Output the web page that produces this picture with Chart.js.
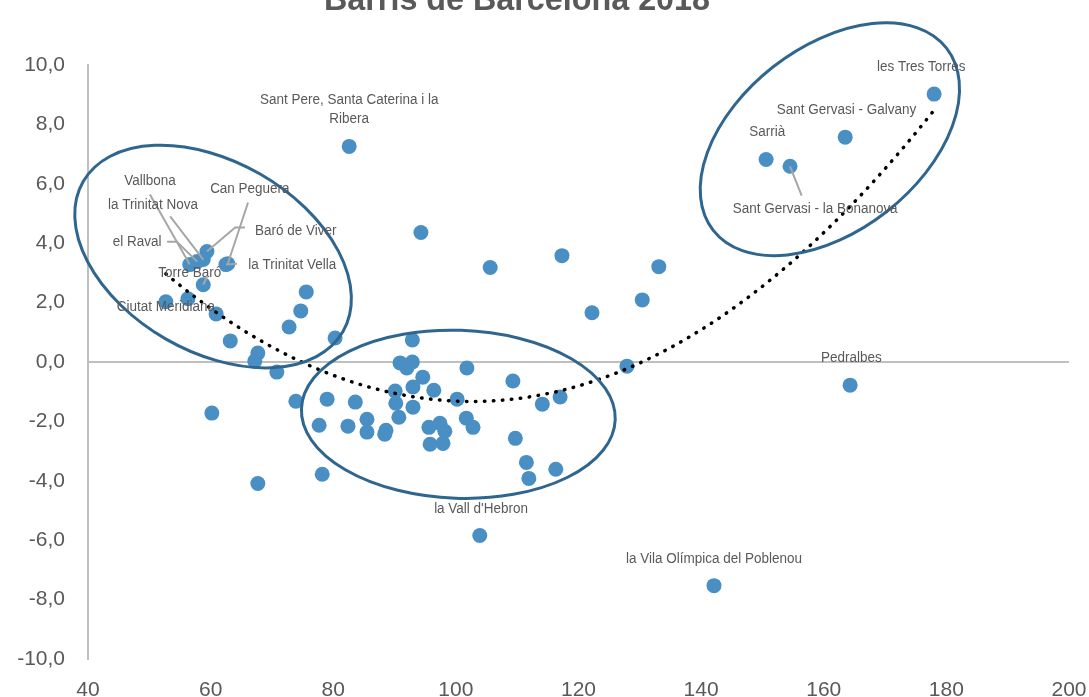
<!DOCTYPE html>
<html>
<head>
<meta charset="utf-8">
<script src="https://cdn.jsdelivr.net/npm/chart.js@4.4.1/dist/chart.umd.min.js"></script>
<style>
  html, body { margin: 0; padding: 0; background: #fff; }
  #wrap { width: 1089px; height: 697px; }
</style>
</head>
<body>
<div id="wrap"><canvas id="chart" width="1089" height="697"></canvas></div>
<script>
// Barris de Barcelona 2018 - one point per barri
const xValues = [
  52.7, 56.3, 56.6, 57.8, 58.8, 59.4, 62.8, 62.5, 58.8, 60.9,
  63.2, 67.7, 67.2, 70.8, 75.6, 74.7, 72.8, 80.3, 82.6, 60.2,
  67.7, 73.9, 78.2, 94.3, 105.6, 117.3, 133.1, 130.4, 122.2, 127.9,
  164.3, 142.1, 103.9, 150.6, 154.5, 163.5, 178.0,
  92.9, 90.9, 92.9, 92.0, 101.8, 94.6, 109.3, 93.0, 96.4, 90.1,
  100.2, 79.0, 83.6, 90.2, 93.0, 114.1, 117.0, 90.7, 101.7, 102.8,
  85.5, 85.5, 82.4, 77.7, 88.6, 88.4, 95.6, 97.4, 98.2, 95.8,
  97.9, 109.7, 111.5, 111.9, 116.3
];
const yValues = [
  2.03, 2.13, 3.28, 3.38, 3.45, 3.72, 3.31, 3.28, 2.60, 1.62,
  0.71, 0.30, 0.03, -0.34, 2.36, 1.72, 1.18, 0.81, 7.26, -1.72,
  -4.09, -1.32, -3.78, 4.36, 3.18, 3.58, 3.21, 2.09, 1.66, -0.14,
  -0.78, -7.53, -5.84, 6.82, 6.59, 7.57, 9.02,
  0.74, -0.03, 0.00, -0.20, -0.20, -0.51, -0.64, -0.84, -0.95, -0.98,
  -1.25, -1.25, -1.35, -1.39, -1.52, -1.42, -1.18, -1.86, -1.89, -2.20,
  -1.93, -2.36, -2.16, -2.13, -2.30, -2.43, -2.20, -2.06, -2.33, -2.77,
  -2.74, -2.57, -3.38, -3.92, -3.61
];

const xTickValues = [40, 60, 80, 100, 120, 140, 160, 180, 200];
const yTickValues = [-10, -8, -6, -4, -2, 0, 2, 4, 6, 8, 10];

// named barris and the point they belong to
const labelNames = [
  'les Tres Torres', 'Sant Gervasi - Galvany', 'Sarrià', 'Sant Gervasi - la Bonanova',
  'Pedralbes', 'la Vila Olímpica del Poblenou', "la Vall d'Hebron",
  'Sant Pere, Santa Caterina i la\nRibera',
  'Vallbona', 'la Trinitat Nova', 'el Raval', 'Can Peguera', 'Baró de Viver',
  'la Trinitat Vella', 'Torre Baró', 'Ciutat Meridiana'
];
const labelPoint = [36, 35, 33, 34, 30, 31, 32, 18, 2, 4, 3, 6, 5, 7, 8, 0];

const trendOrder = 2;

// where the data labels sit (data units) and their leader lines
const labelLayout = [
  { x: 175.9, y: 9.93 },
  { x: 163.7, y: 8.51 },
  { x: 150.8, y: 7.74 },
  { x: 158.6, y: 5.17, leader: [[156.4, 5.6]] },
  { x: 164.5, y: 0.14 },
  { x: 142.1, y: -6.62 },
  { x: 104.1, y: -4.93 },
  { x: 82.6, y: 8.51 },
  { x: 50.1, y: 6.11, leader: [[50.1, 5.64]] },
  { x: 50.6, y: 5.30, leader: [[53.4, 4.90]] },
  { x: 48.0, y: 4.05, leader: [[52.9, 4.05], [54.5, 4.05]] },
  { x: 66.4, y: 5.84, leader: [[66.1, 5.37]] },
  { x: 73.9, y: 4.43, leader: [[65.6, 4.53], [64.0, 4.53]] },
  { x: 73.3, y: 3.28, leader: [[64.3, 3.31]] },
  { x: 56.6, y: 3.00, leader: [[59.4, 2.87]] },
  { x: 52.7, y: 1.86 }
];

// the three circled groups: centre in data units, radii in px
const groups = [
  { x: 60.4, y: 3.55, rx: 150, ry: 95, rot: 30 },
  { x: 161.0, y: 7.5, rx: 148, ry: 92, rot: -38 },
  { x: 100.4, y: -1.76, rx: 157, ry: 84, rot: 2 }
];

function polyFit(xs, ys, order) {
  const n = order + 1;
  const A = Array.from({ length: n }, () => new Array(n + 1).fill(0));
  for (let k = 0; k < xs.length; k++) {
    const u = (xs[k] - 100) / 50;
    for (let i = 0; i < n; i++) {
      for (let j = 0; j < n; j++) A[i][j] += Math.pow(u, i + j);
      A[i][n] += ys[k] * Math.pow(u, i);
    }
  }
  for (let i = 0; i < n; i++) {
    let m = i;
    for (let r = i + 1; r < n; r++) if (Math.abs(A[r][i]) > Math.abs(A[m][i])) m = r;
    [A[i], A[m]] = [A[m], A[i]];
    for (let r = i + 1; r < n; r++) {
      const f = A[r][i] / A[i][i];
      for (let c = i; c <= n; c++) A[r][c] -= f * A[i][c];
    }
  }
  const coef = new Array(n).fill(0);
  for (let i = n - 1; i >= 0; i--) {
    let s = A[i][n];
    for (let j = i + 1; j < n; j++) s -= A[i][j] * coef[j];
    coef[i] = s / A[i][i];
  }
  return x => {
    const u = (x - 100) / 50;
    return coef.reduce((acc, c, i) => acc + c * Math.pow(u, i), 0);
  };
}

const trend = polyFit(xValues, yValues, trendOrder);
const xMin = Math.min(...xValues), xMax = Math.max(...xValues);
const trendPoints = [];
for (let i = 0; i <= 150; i++) {
  const x = xMin + (xMax - xMin) * i / 150;
  trendPoints.push({ x: x, y: trend(x) });
}

// labels look condensed in the original, squeeze them a bit
const LABEL_FONT = "15.5px 'Liberation Sans', sans-serif";
const LABEL_SQUEEZE = 0.87;

const decorPlugin = {
  id: 'decor',
  afterDatasetsDraw(chart) {
    const ctx = chart.ctx;
    const xs = chart.scales.x, ys = chart.scales.y;
    ctx.save();
    // ellipses
    ctx.strokeStyle = '#2f668f';
    ctx.lineWidth = 3;
    groups.forEach(g => {
      ctx.beginPath();
      ctx.ellipse(xs.getPixelForValue(g.x), ys.getPixelForValue(g.y), g.rx, g.ry, g.rot * Math.PI / 180, 0, Math.PI * 2);
      ctx.stroke();
    });
    // leader lines
    ctx.strokeStyle = '#a6a6a6';
    ctx.lineWidth = 2;
    labelLayout.forEach((l, i) => {
      if (!l.leader) return;
      const p = labelPoint[i];
      ctx.beginPath();
      l.leader.forEach((pt, k) => {
        const px = xs.getPixelForValue(pt[0]), py = ys.getPixelForValue(pt[1]);
        if (k === 0) ctx.moveTo(px, py); else ctx.lineTo(px, py);
      });
      ctx.lineTo(xs.getPixelForValue(xValues[p]), ys.getPixelForValue(yValues[p]));
      ctx.stroke();
    });
    // labels
    ctx.fillStyle = '#595959';
    ctx.font = LABEL_FONT;
    ctx.textAlign = 'center';
    ctx.textBaseline = 'middle';
    labelLayout.forEach((l, i) => {
      const lines = labelNames[i].split('\n');
      const cx = xs.getPixelForValue(l.x), cy = ys.getPixelForValue(l.y);
      const lh = 19;
      lines.forEach((t, k) => {
        ctx.save();
        ctx.translate(cx, cy + (k - (lines.length - 1) / 2) * lh);
        ctx.scale(LABEL_SQUEEZE, 1);
        ctx.fillText(t, 0, 0);
        ctx.restore();
      });
    });
    ctx.restore();
  },
  afterDraw(chart) {
    const ctx = chart.ctx;
    ctx.save();
    ctx.fillStyle = '#595959';
    ctx.textAlign = 'center';
    ctx.textBaseline = 'alphabetic';
    ctx.font = "bold 30px 'Liberation Sans', sans-serif";
    const w = ctx.measureText('Barris de Barcelona 2018').width;
    const size = 30 * 386 / w;
    ctx.font = "bold " + size.toFixed(1) + "px 'Liberation Sans', sans-serif";
    ctx.fillText('Barris de Barcelona 2018', 517, 10);
    ctx.restore();
  }
};

const ctx = document.getElementById('chart').getContext('2d');
new Chart(ctx, {
  type: 'scatter',
  data: {
    datasets: [
      {
        type: 'line',
        label: 'Tendència',
        data: trendPoints,
        borderColor: '#000000',
        borderWidth: 3.5,
        borderDash: [0.5, 8.5],
        borderCapStyle: 'round',
        pointRadius: 0,
        fill: false,
        tension: 0
      },
      {
        label: 'Barris',
        data: xValues.map((x, i) => ({ x: x, y: yValues[i] })),
        backgroundColor: '#4a8fc4',
        borderColor: '#4a8fc4',
        borderWidth: 0,
        pointRadius: 7.5,
        pointHoverRadius: 7.5
      }
    ]
  },
  options: {
    responsive: false,
    animation: false,
    devicePixelRatio: 1,
    layout: { autoPadding: false, padding: { top: 65, right: 20, left: 0, bottom: 0 } },
    plugins: {
      legend: { display: false },
      tooltip: { enabled: false },
      title: { display: false }
    },
    scales: {
      x: {
        type: 'linear',
        min: 40,
        max: 200,
        afterBuildTicks: s => { s.ticks = xTickValues.map(v => ({ value: v })); },
        afterFit: s => { s.height = 38; s.paddingLeft = 0; s.paddingRight = 0; },
        grid: { display: false, drawTicks: false },
        border: { display: false },
        ticks: {
          padding: 19,
          color: '#595959',
          font: { family: "'Liberation Sans', sans-serif", size: 21 }
        }
      },
      y: {
        type: 'linear',
        min: -10,
        max: 10,
        afterBuildTicks: s => { s.ticks = yTickValues.map(v => ({ value: v })); },
        afterFit: s => { s.width = 88; s.paddingTop = 0; s.paddingBottom = 0; },
        grid: {
          drawTicks: false,
          lineWidth: 2,
          color: c => (c.tick && c.tick.value === 0) ? '#bfbfbf' : 'rgba(0,0,0,0)'
        },
        border: { display: true, color: '#bfbfbf', width: 2 },
        ticks: {
          padding: 23,
          color: '#595959',
          font: { family: "'Liberation Sans', sans-serif", size: 21 },
          callback: v => v.toFixed(1).replace('.', ',')
        }
      }
    }
  },
  plugins: [decorPlugin]
});
</script>
</body>
</html>
